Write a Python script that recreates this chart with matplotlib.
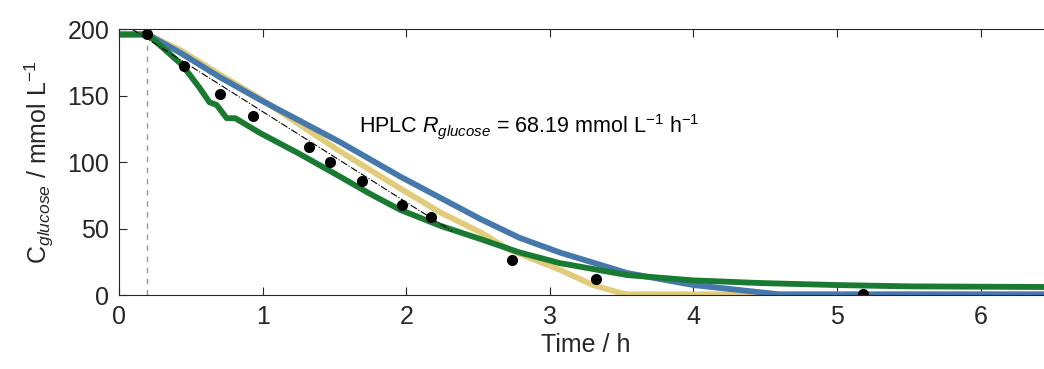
import numpy as np
from matplotlib import pyplot as plt

plt.rcParams["font.family"] = ["Liberation Sans", "DejaVu Sans"]
plt.rcParams["mathtext.fontset"] = "custom"
plt.rcParams["mathtext.rm"] = "Liberation Sans"
plt.rcParams["mathtext.it"] = "Liberation Sans:italic"

# HPLC samples
hplc_t = [0.195, 0.45, 0.70, 0.93, 1.32, 1.47, 1.69, 1.97, 2.17, 2.74, 3.32, 5.18]
hplc_c = [196, 172, 151, 135, 111, 100, 86, 68, 59, 26, 12, 0.7]

# linear fit endpoints
fit_t = [0.09, 2.32]
fit_c = [200, 48]

# model / sensor curves
yellow_t = [0, 0.2, 0.43, 0.70, 0.98, 1.26, 1.54, 1.96, 2.24, 2.52, 2.72, 3.07, 3.30, 3.51, 3.55, 6.5]
yellow_c = [196, 196, 184, 166, 148, 128, 108, 80, 62, 47, 34, 19, 7.5, 1, 0.5, 0.5]

blue_t = [0, 0.2, 0.43, 0.70, 0.98, 1.26, 1.54, 1.96, 2.24, 2.52, 2.79, 3.07, 3.54, 4.0, 4.47, 4.6, 6.5]
blue_c = [196, 196, 182, 164, 147, 131, 115, 89, 73, 57, 43, 32, 16.5, 7.5, 2, 0.5, 0.5]

green_t = [0, 0.2, 0.43, 0.49, 0.56, 0.63, 0.68, 0.75, 0.81, 0.98, 1.26, 1.54, 1.75, 1.96, 2.24,
           2.52, 2.79, 3.07, 3.54, 4.0, 4.47, 5.0, 5.5, 6.5]
green_c = [196, 196, 174, 166, 156, 145, 143, 133, 133, 122, 106, 89, 76, 64, 52,
           42, 32, 24, 15, 11, 9, 7.5, 6.5, 6]

t_start = 0.195

fig = plt.figure(figsize=(10.44, 3.69), dpi=100)
ax = fig.add_axes([0.114, 0.2005, 0.894, 0.7205])

ax.plot([t_start, t_start], [0, 196], color="#999999", ls=(0, (4, 4)), lw=1)
ax.plot(yellow_t, yellow_c, color="#E1CC7C", lw=4.2, solid_capstyle="butt")
ax.plot(blue_t, blue_c, color="#4678AC", lw=4.2, solid_capstyle="butt")
ax.plot(green_t, green_c, color="#197A32", lw=4.2, solid_capstyle="butt")
ax.plot(fit_t, fit_c, color="black", ls="-.", lw=0.8)
ax.plot(hplc_t, hplc_c, "o", color="black", ms=7)

ax.text(1.67, 127, r"HPLC $R_{glucose}$ = 68.19 mmol L$^{-1}$ h$^{-1}$",
        fontsize=15.5, color="black", va="center")

ax.set_xlim(0, 6.5)
ax.set_ylim(0, 200)
ax.set_xticks(range(0, 7))
ax.set_yticks([0, 50, 100, 150, 200])
ax.tick_params(direction="in", length=6, colors="#262626", labelsize=18,
               top=True, right=True, pad=7)
for s in ax.spines.values():
    s.set_color("#262626")
    s.set_linewidth(0.8)

ax.set_xlabel("Time / h", fontsize=18, color="#262626", labelpad=3)
ax.set_ylabel(r"C$_{\mathit{glucose}}$ / mmol L$^{-1}$", fontsize=18, color="#262626", labelpad=8)

fig.savefig("out.png", dpi=100)
